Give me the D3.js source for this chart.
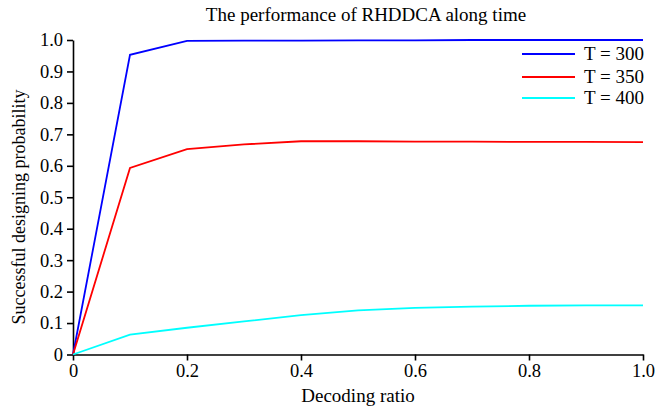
<!DOCTYPE html>
<html><head><meta charset="utf-8">
<script src="https://cdn.jsdelivr.net/npm/d3@7"></script>
<style>body{margin:0;background:#fff}svg{display:block}text{font-family:"Liberation Serif","Times New Roman",serif;fill:#000}</style>
</head><body><svg id="c" width="656" height="408"></svg>
<script>
const xValues = [0, 0.1, 0.2, 0.3, 0.4, 0.5, 0.6, 0.7, 0.8, 0.9, 1.0];
const seriesNames = ["T = 300", "T = 350", "T = 400"];
const t300 = [0, 0.953, 0.997, 0.998, 0.998, 0.999, 0.999, 1.0, 1.0, 1.0, 1.0];
const t350 = [0, 0.593, 0.653, 0.668, 0.678, 0.678, 0.677, 0.677, 0.676, 0.676, 0.675];
const t400 = [0, 0.063, 0.085, 0.105, 0.125, 0.14, 0.148, 0.152, 0.155, 0.156, 0.156];
const colors = ["#0000ff", "#ff0000", "#00ffff"];
const xTicks = [0, 0.2, 0.4, 0.6, 0.8, 1.0];
const yTicks = [0, 0.1, 0.2, 0.3, 0.4, 0.5, 0.6, 0.7, 0.8, 0.9, 1.0];

const svg = d3.select("#c");
const L = 73, R = 643, T = 40, B = 354.5;
const x = d3.scaleLinear().domain([0, 1]).range([L, R]);
const y = d3.scaleLinear().domain([0, 1]).range([B, T]);
const fmt = d => d === 0 ? "0" : d3.format(".1f")(d);
const FF = '"Liberation Serif","Times New Roman",serif';

const xa = svg.append("g").attr("transform", `translate(0,${B})`)
  .call(d3.axisBottom(x).tickValues(xTicks).tickFormat(fmt).tickSize(6).tickPadding(3).tickSizeOuter(0));
const ya = svg.append("g").attr("transform", `translate(${L},0)`)
  .call(d3.axisLeft(y).tickValues(yTicks).tickFormat(fmt).tickSize(6).tickPadding(4).tickSizeOuter(0));
[xa, ya].forEach(a => {
  a.attr("font-family", null).attr("font-size", null);
  a.selectAll("path").attr("stroke", "#000").attr("stroke-width", 1.6);
  a.selectAll("line").attr("stroke", "#000").attr("stroke-width", 1.6);
  a.selectAll("text").style("font-size", "18.5px").style("font-family", FF).attr("fill", "#000");
});

const line = d3.line().x((d, i) => x(xValues[i])).y(d => y(d));
[t300, t350, t400].forEach((s, k) => {
  svg.append("path").datum(s).attr("d", line).attr("fill", "none")
    .attr("stroke", colors[k]).attr("stroke-width", 1.8).attr("stroke-linejoin", "miter");
});

svg.append("text").attr("x", 366).attr("y", 21).attr("text-anchor", "middle")
  .style("font-size", "19px").style("font-family", FF).text("The performance of RHDDCA along time");
svg.append("text").attr("x", 358).attr("y", 402).attr("text-anchor", "middle")
  .style("font-size", "19px").style("font-family", FF).text("Decoding ratio");
svg.append("text").attr("transform", "translate(25,207) rotate(-90)").attr("text-anchor", "middle")
  .style("font-size", "18px").style("font-family", FF).text("Successful designing probability");

const legY = [54, 77, 98];
seriesNames.forEach((n, k) => {
  svg.append("line").attr("x1", 522).attr("x2", 575).attr("y1", legY[k]).attr("y2", legY[k])
    .attr("stroke", colors[k]).attr("stroke-width", 1.8);
  svg.append("text").attr("x", 584).attr("y", legY[k] + 6).style("font-size", "19px").style("font-family", FF).text(n);
});
</script></body></html>
